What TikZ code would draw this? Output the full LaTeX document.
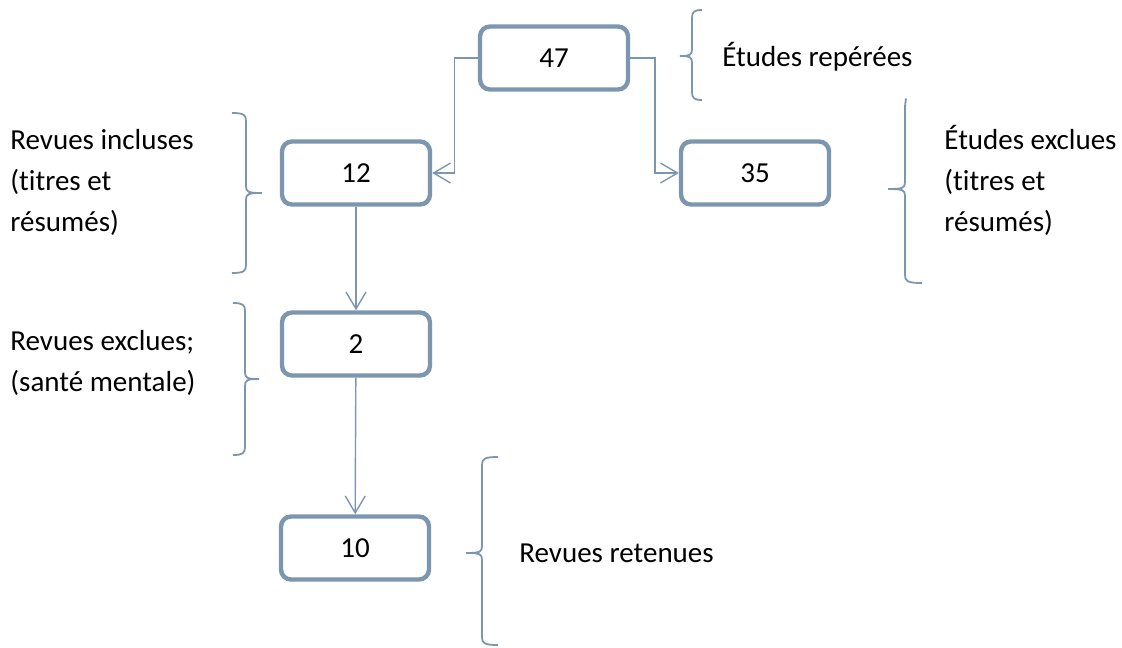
\documentclass[tikz,border=0pt]{standalone}
\usepackage{fontspec}
\setmainfont{Carlito}[Ligatures=NoCommon]
\usetikzlibrary{arrows.meta,calc}
\definecolor{steel}{HTML}{7D96AF}
\tikzset{
  countbox/.style={draw=steel,line width=2.2pt,rounded corners=5pt,fill=white,
    minimum width=74pt,minimum height=31.5pt,inner sep=0pt},
  conn/.style={draw=steel,line width=0.7pt,-{Straight Barb[length=8.5pt,width=10pt]}},
  bracket/.style={draw=steel,line width=0.9pt},
  label/.style={anchor=base west,align=left,inner sep=0pt}
}
% spine x, top, middle, bottom, tip, top tail, bottom tail
\newcommand{\curlyright}[7]{%
\draw[bracket] ({#1-#6},#2) .. controls ({#1-2},#2) and (#1,{#2+2}) .. (#1,{#2+8})
  -- (#1,{#3-7}) .. controls (#1,{#3-1}) and ({#1+2},#3) .. ({#1+#5},#3)
  .. controls ({#1+2},#3) and (#1,{#3+1}) .. (#1,{#3+7})
  -- (#1,{#4-8}) .. controls (#1,{#4-2}) and ({#1-2},#4) .. ({#1-#7},#4);}
\newcommand{\curlyleft}[7]{%
\draw[bracket] ({#1+#6},#2) .. controls ({#1+2},#2) and (#1,{#2+2}) .. (#1,{#2+8})
  -- (#1,{#3-7}) .. controls (#1,{#3-1}) and ({#1-2},#3) .. ({#1-#5},#3)
  .. controls ({#1-2},#3) and (#1,{#3+1}) .. (#1,{#3+7})
  -- (#1,{#4-8}) .. controls (#1,{#4-2}) and ({#1+2},#4) .. ({#1+#7},#4);}
\begin{document}
\begin{tikzpicture}[x=0.5pt,y=-0.5pt,font=\fontsize{14.5}{20.5}\selectfont]
\useasboundingbox (0,0) rectangle (1122,647);

\node(n47)[countbox] at (554,58) {47};
\node(n12)[countbox] at (356,173) {12};
\node(n35)[countbox] at (755,173) {35};
\node(n2)[countbox] at (356,344) {2};
\node(n10)[countbox] at (355,548) {10};

\draw[conn] (n47.west) -| ($(n12.east)+(22,0)$) -- (n12.east);
\draw[conn] (n47.east) -| ($(n35.west)+(-24,0)$) -- (n35.west);
\draw[conn] (n12) -- (n2);
\draw[conn] (n2) -- (n10);

\curlyleft{692}{10}{56}{100}{12}{10}{10}
\curlyleft{905}{99}{189}{283}{17}{0}{17}
\curlyleft{482}{457}{553}{645}{16}{16}{16}
\curlyright{246}{113}{193}{273}{16}{14}{14}
\curlyright{245}{303}{379}{455}{14}{12}{12}

% base of a multi-line label is its last line
\node(repere)[label] at (722,67) {Études repérées};
\node(exclu)[label] at (944,231) {Études exclues\\(titres et\\résumés)};
\node(inclu)[label] at (10,231) {Revues incluses\\(titres et\\résumés)};
\node(sante)[label] at (10,391) {Revues exclues;\\(santé mentale)};
\node(retenu)[label] at (519,562) {Revues retenues};
\end{tikzpicture}
\end{document}
